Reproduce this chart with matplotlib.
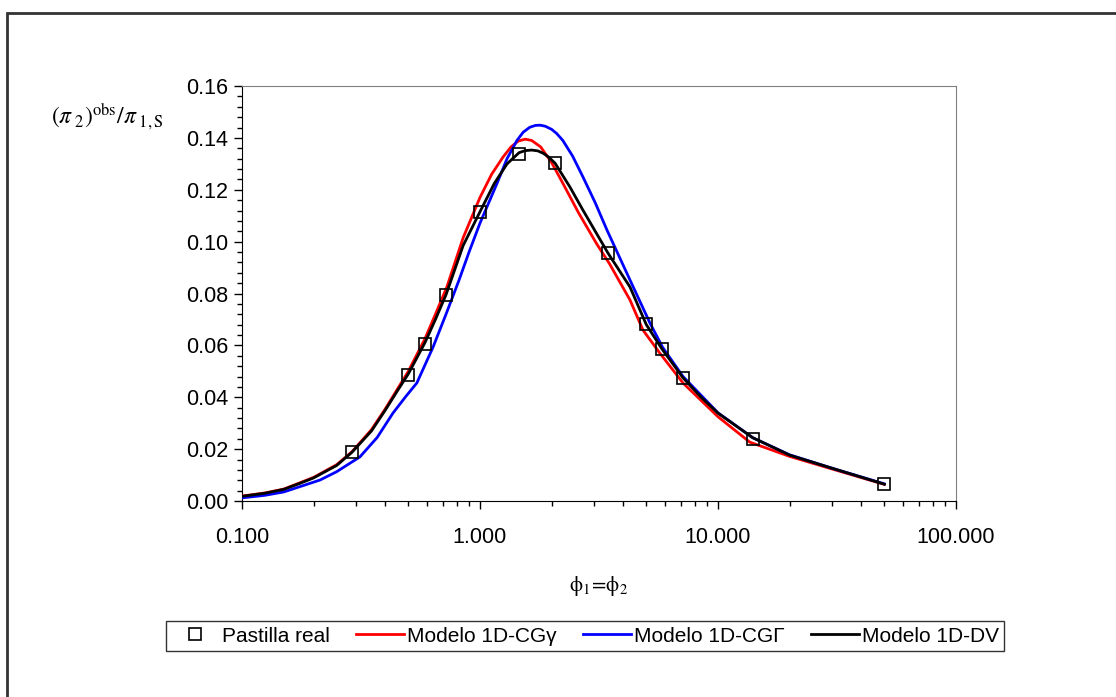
import matplotlib.pyplot as plt
from matplotlib.patches import Rectangle
from matplotlib.ticker import FixedLocator, MultipleLocator, FormatStrFormatter, NullFormatter

plt.rcParams['font.family'] = ['Liberation Sans', 'DejaVu Sans']
plt.rcParams['mathtext.fontset'] = 'stix'

# Datos experimentales (pastilla real)
x_real = [0.29, 0.50, 0.587, 0.72, 1.0, 1.46, 2.07, 3.45, 5.0, 5.82, 7.13, 14.0, 50.0]
y_real = [0.0188, 0.0486, 0.0605, 0.0794, 0.1114, 0.1337, 0.1302, 0.0956, 0.0682,
          0.0586, 0.0474, 0.0238, 0.0064]

# Modelo 1D-CG gamma (rojo)
x_cgg = [0.1, 0.125, 0.15, 0.2, 0.25, 0.29, 0.35, 0.4, 0.5, 0.587, 0.65, 0.726, 0.85, 1.0,
         1.12, 1.25, 1.35, 1.45, 1.55, 1.65, 1.8, 2.0, 2.23, 2.6, 3.1, 3.5, 4.27, 4.84, 5.7,
         7.13, 10.0, 13.6, 20.0, 30.0, 50.0]
y_cgg = [0.0019, 0.0031, 0.0046, 0.0091, 0.0140, 0.0190, 0.0275, 0.0355, 0.0500, 0.0625,
         0.0720, 0.0825, 0.1015, 0.1170, 0.1260, 0.1326, 0.1365, 0.1388, 0.1395, 0.1390,
         0.1365, 0.1305, 0.1225, 0.1110, 0.0990, 0.0915, 0.0775, 0.0659, 0.0570, 0.0455,
         0.0325, 0.0227, 0.0172, 0.0124, 0.0064]

# Modelo 1D-CG Gamma mayuscula (azul)
x_cgG = [0.1, 0.125, 0.15, 0.213, 0.25, 0.313, 0.37, 0.431, 0.49, 0.543, 0.635, 0.72,
         0.817, 0.9, 1.0, 1.18, 1.3, 1.43, 1.52, 1.62, 1.71, 1.79, 1.88, 2.0, 2.1, 2.23,
         2.45, 2.71, 3.05, 3.42, 4.27, 5.18, 5.85, 7.13, 10.0, 14.0, 20.0, 30.0, 50.0]
y_cgG = [0.0012, 0.0022, 0.0035, 0.0081, 0.0113, 0.0170, 0.0245, 0.0339, 0.0405, 0.0455,
         0.0593, 0.0720, 0.0852, 0.0960, 0.1071, 0.1225, 0.1320, 0.1390, 0.1422, 0.1441,
         0.1448, 0.1449, 0.1445, 0.1433, 0.1417, 0.1390, 0.1330, 0.1249, 0.1150, 0.1044,
         0.0852, 0.0686, 0.0593, 0.0480, 0.0340, 0.0244, 0.0178, 0.0127, 0.0066]

# Modelo 1D-DV (negro)
x_dv = [0.1, 0.125, 0.15, 0.175, 0.2, 0.25, 0.29, 0.35, 0.4, 0.45, 0.5, 0.587, 0.65,
        0.72, 0.85, 1.0, 1.15, 1.3, 1.46, 1.55, 1.65, 1.75, 1.85, 1.95, 2.07, 2.39, 2.71,
        3.45, 4.27, 5.0, 5.82, 7.13, 8.5, 10.0, 14.0, 20.0, 30.0, 50.0]
y_dv = [0.0018, 0.0030, 0.0045, 0.0068, 0.0089, 0.0137, 0.0188, 0.0270, 0.0350, 0.0425,
        0.0490, 0.0610, 0.0700, 0.0795, 0.0985, 0.1115, 0.1225, 0.1300, 0.1343, 0.1351,
        0.1353, 0.1350, 0.1340, 0.1325, 0.1302, 0.1210, 0.1121, 0.0956, 0.0825, 0.0680,
        0.0586, 0.0475, 0.0400, 0.0339, 0.0244, 0.0177, 0.0127, 0.0065]

x_ticks = [0.1, 1, 10, 100]
x_ticklabels = ['0.100', '1.000', '10.000', '100.000']

fig = plt.figure(figsize=(11.16, 6.97), dpi=100)
ax = fig.add_axes([0.2168, 0.2812, 0.6398, 0.5954])

ax.plot(x_cgg, y_cgg, color='#ff0000', lw=2.0, label='Modelo 1D-CGγ', zorder=3)
ax.plot(x_cgG, y_cgG, color='#0000ff', lw=2.0, label='Modelo 1D-CGΓ', zorder=3)
ax.plot(x_dv, y_dv, color='black', lw=2.0, label='Modelo 1D-DV', zorder=4)
ax.plot(x_real, y_real, ls='none', marker='s', ms=9, mfc='none', mec='black', mew=1.2,
        label='Pastilla real', zorder=5)

ax.set_xscale('log')
ax.set_xlim(0.1, 100)
ax.set_ylim(0, 0.16)
ax.xaxis.set_major_locator(FixedLocator(x_ticks))
ax.set_xticklabels(x_ticklabels)
ax.xaxis.set_minor_formatter(NullFormatter())
ax.yaxis.set_major_locator(MultipleLocator(0.02))
ax.yaxis.set_minor_locator(MultipleLocator(0.004))
ax.yaxis.set_major_formatter(FormatStrFormatter('%.2f'))

ax.tick_params(which='major', direction='out', length=6, width=1, labelsize=15.5)
ax.tick_params(axis='y', which='major', pad=4)
ax.tick_params(axis='x', which='major', pad=13)
ax.tick_params(which='minor', direction='out', length=3.5, width=1)
ax.spines['top'].set_color('#808080')
ax.spines['right'].set_color('#808080')

ax.set_xlabel(r'$\mathrm{\phi_1\!=\!\phi_2}$', fontsize=15)
ax.xaxis.set_label_coords(0.5, -0.175)
fig.text(0.096, 0.832, r'$(\pi_{\ 2})^{\mathrm{obs}}/\pi_{\ 1,\mathrm{S}}$', fontsize=17,
         ha='center', va='center')

# orden de la leyenda: marcadores primero
handles, labels = ax.get_legend_handles_labels()
order = [3, 0, 1, 2]
leg = fig.legend([handles[i] for i in order], [labels[i] for i in order],
                 loc='center', bbox_to_anchor=(585 / 1116, 1 - 636 / 697), ncol=4,
                 fontsize=15, frameon=True, fancybox=False, edgecolor='black',
                 handlelength=2.3, handletextpad=0.15, columnspacing=1.25, borderpad=0.25)
leg.get_frame().set_linewidth(1.0)

# marco exterior del grafico
fig.patches.append(Rectangle((7 / 1116, -0.1), 1.2, 1 - 13 / 697 + 0.1, transform=fig.transFigure,
                             fill=False, edgecolor='#333333', lw=2))

fig.savefig('out.png', dpi=100)
